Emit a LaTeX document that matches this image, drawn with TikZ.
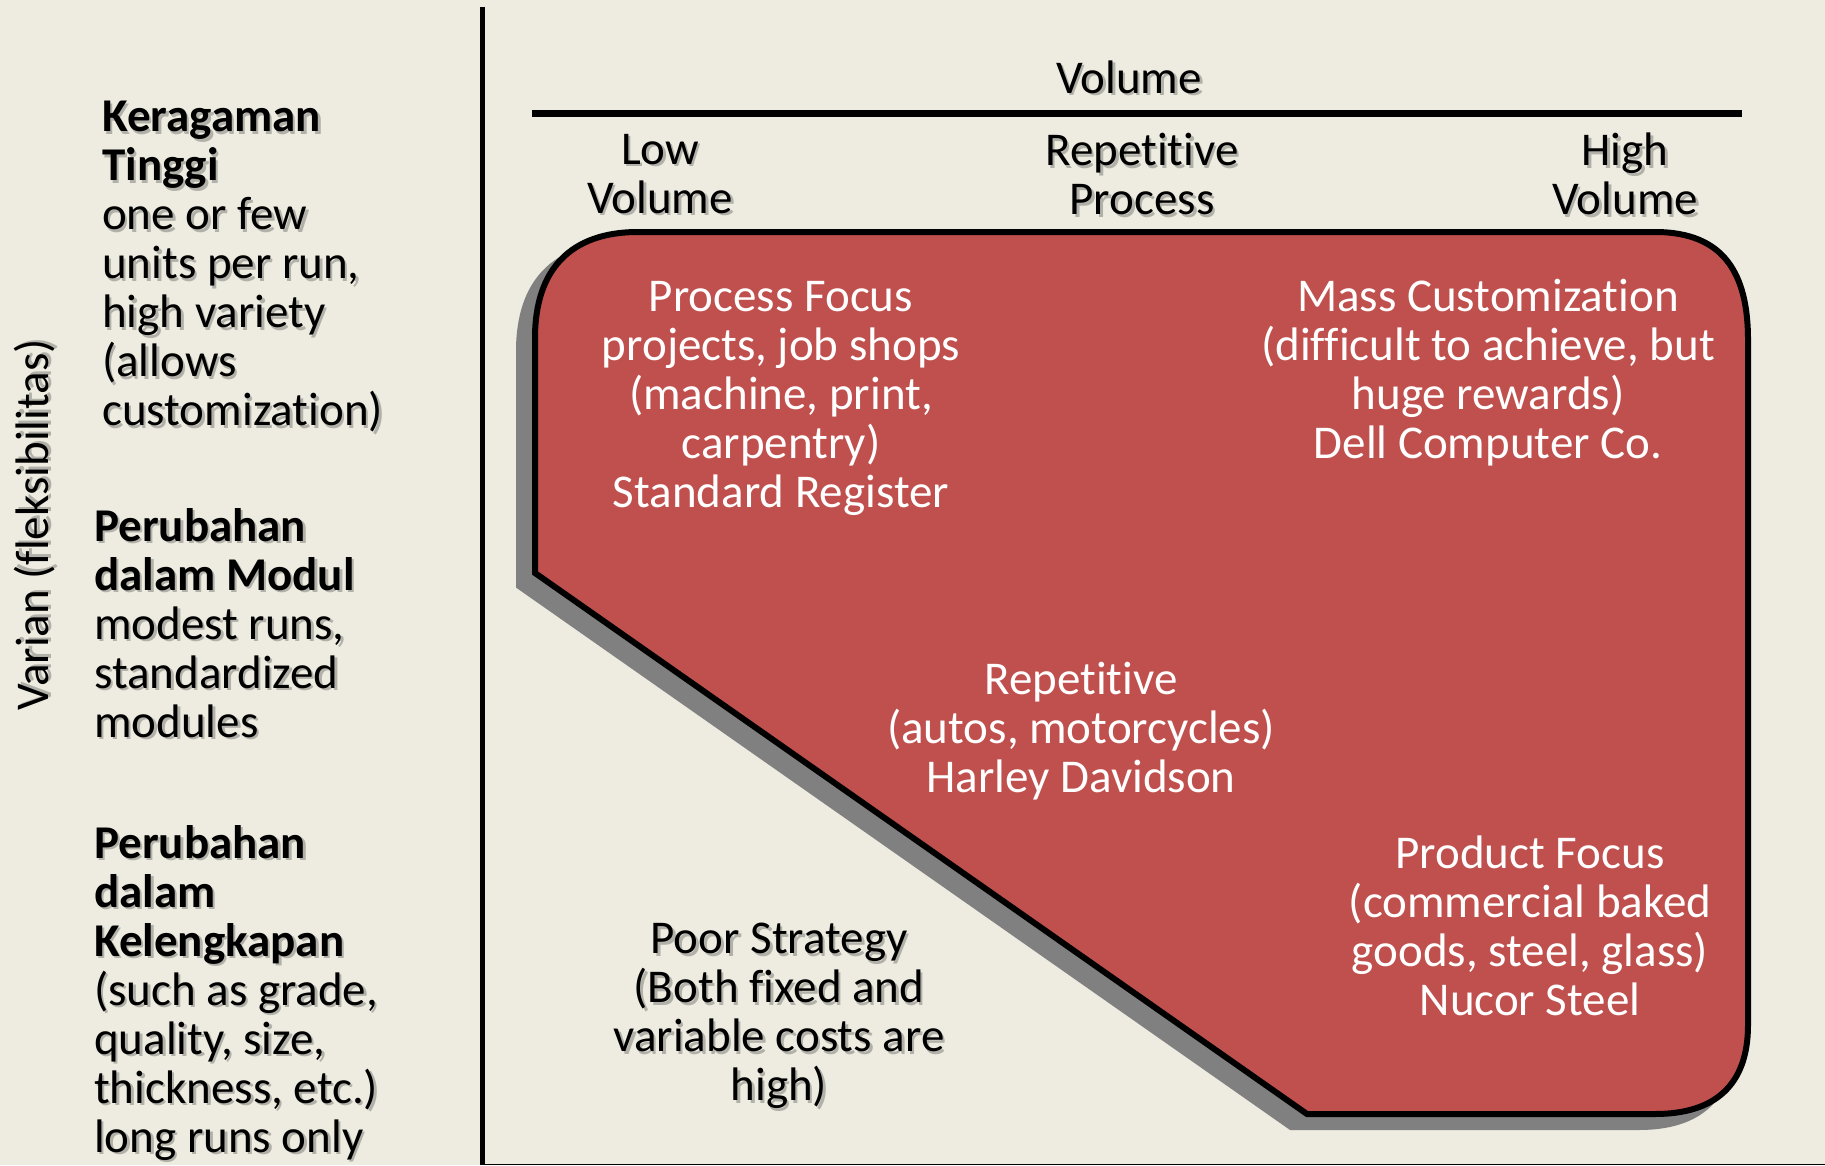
\documentclass[tikz,border=0pt]{standalone}
\usepackage{fontspec}
\setmainfont{Carlito}[Ligatures=NoCommon]
\definecolor{bg}{HTML}{EEECE1}
\definecolor{regionred}{HTML}{C0504D}
\definecolor{shadowgray}{HTML}{808080}
\colorlet{textshadow}{black!25!bg}
\newcommand\regionpath{(638,232) -- (1655,232) .. controls (1725,232) and (1748,275) .. (1748,340) -- (1748,1025) .. controls (1748,1085) and (1715,1114) .. (1655,1114) -- (1307,1114) -- (535,573) -- (535,338) .. controls (535,270) and (570,232) .. (638,232) -- cycle}
\newcommand\shlabel[4]{%
  \node[#3, text=textshadow, xshift=2.5pt, yshift=-2.5pt] at #2 {#4};
  \node[#3] (#1) at #2 {#4};}
\begin{document}
\begin{tikzpicture}[x=1pt,y=-1pt,
  every node/.style={inner sep=0pt, font=\fontsize{47}{49}\selectfont},
  lefttext/.style={align=left, anchor=west},
  ctext/.style={align=center},
  intext/.style={align=center, text=white},
  outline/.style={line width=6pt, line join=miter},
]
\fill[bg] (0,0) rectangle (1825,1165);
\useasboundingbox (0,0) rectangle (1825,1165);

% axes
\coordinate (vtop) at (482,7);
\coordinate (vbot) at (482,1165);
\draw[line width=5pt] (vtop) -- (vbot);
\coordinate (hl) at (532,113.5);
\coordinate (hr) at (1742,113.5);
\draw[line width=7pt] (hl) -- (hr);
\coordinate (bl) at (482,1164.3);
\coordinate (br) at (1825,1164.3);
\draw[line width=1.5pt] (bl) -- (br);

% region with shadow
\draw[shadowgray, fill=shadowgray, outline, shift={(-16,13)}] \regionpath;
\draw[black, fill=regionred, outline] \regionpath;

% axis labels
\shlabel{varian}{(35,525)}{ctext, rotate=90}{Varian (fleksibilitas)}
\shlabel{volume}{(1129,77)}{ctext}{Volume}
\shlabel{low}{(660,174)}{ctext}{Low\\Volume}
\shlabel{rep}{(1142,174)}{ctext}{Repetitive\\Process}
\shlabel{high}{(1625,174)}{ctext}{High\\Volume}

% left descriptions
\shlabel{b1}{(102,267)}{lefttext}{\textbf{Keragaman}\\\textbf{Tinggi}\\one or few\\units per run,\\high variety\\(allows\\customization)}
\shlabel{b2}{(94,623)}{lefttext}{\textbf{Perubahan}\\\textbf{dalam Modul}\\modest runs,\\standardized\\modules}
\shlabel{b3}{(94,993)}{lefttext}{\textbf{Perubahan}\\\textbf{dalam}\\\textbf{Kelengkapan}\\(such as grade,\\quality, size,\\thickness, etc.)\\long runs only}

% inner texts
\node[intext] (pf) at (781,398) {Process Focus\\projects, job shops\\(machine, print,\\carpentry)\\Standard Register};
\node[intext] (mc) at (1488,373) {Mass Customization\\(difficult to achieve, but\\huge rewards)\\Dell Computer Co.};
\node[intext] (rp) at (1081,731) {Repetitive\\(autos, motorcycles)\\Harley Davidson};
\node[intext] (prf) at (1530,926) {Product Focus\\(commercial baked\\goods, steel, glass)\\Nucor Steel};
\shlabel{poor}{(779,1016)}{ctext}{Poor Strategy\\(Both fixed and\\variable costs are\\high)}
\end{tikzpicture}
\end{document}
